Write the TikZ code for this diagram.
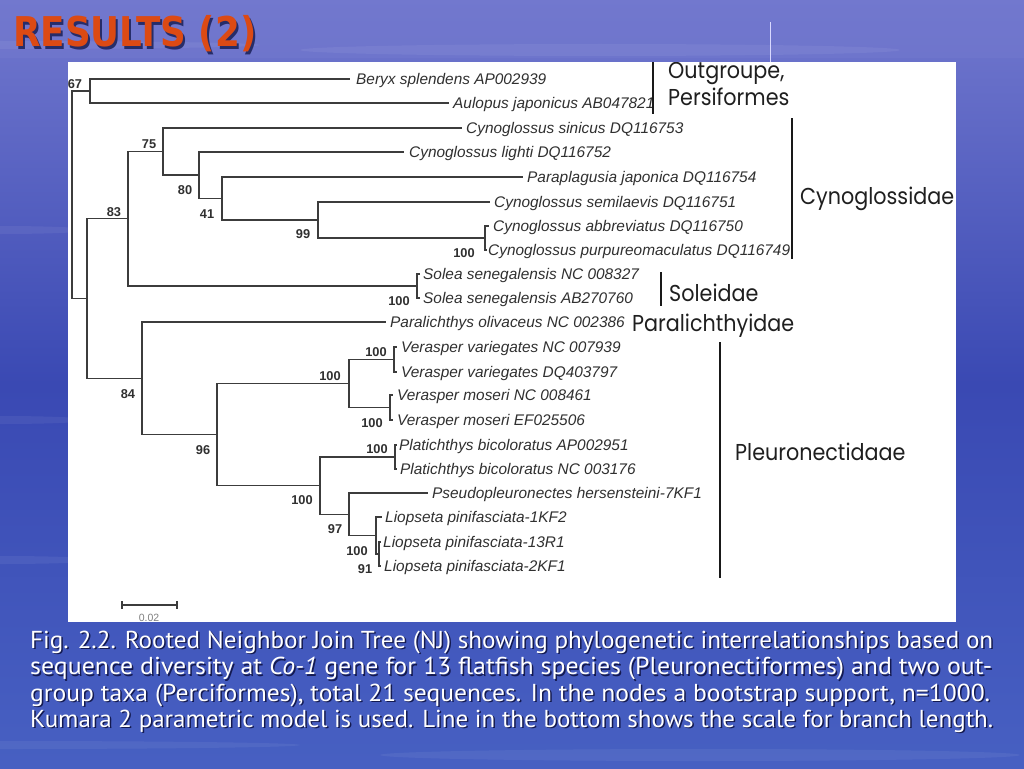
\documentclass[tikz,border=0pt]{standalone}
\usepackage{fontspec}
\usepackage{graphicx}
\setmainfont{Liberation Sans}
\newfontfamily\grpfont{Poppins}
\newfontfamily\capfont{PT Sans}
\newfontfamily\titlefont{DejaVu Sans}
\definecolor{bgtop}{HTML}{7278CE}
\definecolor{bgmid}{HTML}{3A49B3}
\definecolor{bgbot}{HTML}{4760C2}
\definecolor{treegray}{HTML}{3C3C3C}
\definecolor{txtgray}{HTML}{303030}
\definecolor{titleorange}{HTML}{DC4A14}
\definecolor{shadowblue}{HTML}{141A50}
\begin{document}
\begin{tikzpicture}[x=1pt,y=-1pt,
  br/.style={draw=treegray, line width=1.2pt},
  taxon/.style={anchor=base west, inner sep=0pt, font=\fontsize{15.4}{17}\selectfont\itshape, text=txtgray},
  boot/.style={inner sep=0pt, font=\fontsize{12.8}{14}\selectfont\bfseries, text=txtgray},
  grp/.style={anchor=base west, inner sep=0pt, font=\grpfont\fontsize{23}{26}\selectfont, text=black!88},
  grpbar/.style={draw=black!90, line width=2.8pt},
  capline/.style={anchor=base west, inner sep=0pt, font=\capfont\fontsize{24.5}{28}\selectfont},
  streak/.style={fill=white, opacity=0.06},
]
\useasboundingbox (0,0) rectangle (1024,768);
% background
\shade[top color=bgtop, bottom color=bgbot, middle color=bgmid] (0,0) rectangle (1024,768);
\fill[bgtop, opacity=0.6] (0,0) rectangle (1024,58);
\foreach \yy/\ww in {45/260,230/90,420/90,560/100,745/300}{
  \fill[streak] (0,\yy) ellipse [x radius=\ww, y radius=4];
}
\fill[streak] (600,50) ellipse [x radius=300, y radius=6];
\fill[streak] (700,755) ellipse [x radius=320, y radius=6];
% thin line above panel
\draw[white!85!blue, line width=0.8pt] (770,22) -- (770,62);
% title
\node[anchor=base west, inner sep=0pt, text=shadowblue, opacity=0.8, font=\titlefont\bfseries\fontsize{41}{44}\selectfont] (titleshadow) at (15,49) {\scalebox{0.87}[1]{RESULTS (2)}};
\node[anchor=base west, inner sep=0pt, text=titleorange, font=\titlefont\bfseries\fontsize{41}{44}\selectfont] (title) at (13,47) {\scalebox{0.87}[1]{RESULTS (2)}};
% panel
\fill[white] (68,62) rectangle (956,622);
\begin{scope}
\clip (68,62) rectangle (956,622);
% tip coordinates
\coordinate (tBeryx) at (350,79);
\coordinate (tAulopus) at (449,103);
\coordinate (tSinicus) at (462,128);
\coordinate (tLighti) at (404,152);
\coordinate (tPara) at (523,177);
\coordinate (tSemil) at (490,202);
\coordinate (tAbbr) at (489,226);
\coordinate (tPurp) at (487,250);
\coordinate (tSol1) at (420,274);
\coordinate (tSol2) at (420,298);
\coordinate (tParal) at (386,322);
\coordinate (tVV1) at (397,347);
\coordinate (tVV2) at (397,372);
\coordinate (tVM1) at (393,395);
\coordinate (tVM2) at (393,420);
\coordinate (tPB1) at (397,445);
\coordinate (tPB2) at (397,469);
\coordinate (tPseudo) at (428,493);
\coordinate (tL1) at (382,517);
\coordinate (tL2) at (381,542);
\coordinate (tL3) at (381,566);
% internal nodes
\coordinate (nOut) at (90,91);
\coordinate (nCa) at (485,238);
\coordinate (n99) at (318,220);
\coordinate (n41) at (222,198.5);
\coordinate (n80) at (199,175);
\coordinate (n75) at (163,151.5);
\coordinate (nSol) at (417,286);
\coordinate (n83) at (128,218.75);
\coordinate (nVV) at (394,359.5);
\coordinate (nVM) at (390,407.5);
\coordinate (nV) at (349,383.5);
\coordinate (nPB) at (395,457);
\coordinate (nL2) at (379,554);
\coordinate (nL) at (376,535.5);
\coordinate (n97) at (349,514.25);
\coordinate (nP) at (320,485.6);
\coordinate (n96) at (217,434.6);
\coordinate (n84) at (142,378.3);
\coordinate (nIn) at (87,298.5);
\coordinate (root) at (72,194.8);
% branches
\draw[br] (root) |- (nOut);
\draw[br] (root) |- (nIn);
\draw[br] (nOut) |- (tBeryx);
\draw[br] (nOut) |- (tAulopus);
\draw[br] (nIn) |- (n83);
\draw[br] (nIn) |- (n84);
\draw[br] (n83) |- (n75);
\draw[br] (n83) |- (nSol);
\draw[br] (n75) |- (tSinicus);
\draw[br] (n75) |- (n80);
\draw[br] (n80) |- (tLighti);
\draw[br] (n80) |- (n41);
\draw[br] (n41) |- (tPara);
\draw[br] (n41) |- (n99);
\draw[br] (n99) |- (tSemil);
\draw[br] (n99) |- (nCa);
\draw[br] (nCa) |- (tAbbr);
\draw[br] (nCa) |- (tPurp);
\draw[br] (nSol) |- (tSol1);
\draw[br] (nSol) |- (tSol2);
\draw[br] (n84) |- (tParal);
\draw[br] (n84) |- (n96);
\draw[br] (n96) |- (nV);
\draw[br] (n96) |- (nP);
\draw[br] (nV) |- (nVV);
\draw[br] (nV) |- (nVM);
\draw[br] (nVV) |- (tVV1);
\draw[br] (nVV) |- (tVV2);
\draw[br] (nVM) |- (tVM1);
\draw[br] (nVM) |- (tVM2);
\draw[br] (nP) |- (nPB);
\draw[br] (nP) |- (n97);
\draw[br] (nPB) |- (tPB1);
\draw[br] (nPB) |- (tPB2);
\draw[br] (n97) |- (tPseudo);
\draw[br] (n97) |- (nL);
\draw[br] (nL) |- (tL1);
\draw[br] (nL) |- (nL2);
\draw[br] (nL2) |- (tL2);
\draw[br] (nL2) |- (tL3);
% taxon labels
\node[taxon] (lBeryx) at (356,84.5) {Beryx splendens AP002939};
\node[taxon] (lAulopus) at (453,108.5) {Aulopus japonicus AB047821};
\node[taxon] (lSinicus) at (466,133.5) {Cynoglossus sinicus DQ116753};
\node[taxon] (lLighti) at (409,157.5) {Cynoglossus lighti DQ116752};
\node[taxon] (lPara) at (527,182.5) {Paraplagusia japonica DQ116754};
\node[taxon] (lSemil) at (494,207.5) {Cynoglossus semilaevis DQ116751};
\node[taxon] (lAbbr) at (493,231.5) {Cynoglossus abbreviatus DQ116750};
\node[taxon] (lPurp) at (488,255.5) {Cynoglossus purpureomaculatus DQ116749};
\node[taxon] (lSol1) at (423,279.5) {Solea senegalensis NC 008327};
\node[taxon] (lSol2) at (423,303.5) {Solea senegalensis AB270760};
\node[taxon] (lParal) at (390,327.5) {Paralichthys olivaceus NC 002386};
\node[taxon] (lVV1) at (401,352.5) {Verasper variegates NC 007939};
\node[taxon] (lVV2) at (401,377.5) {Verasper variegates DQ403797};
\node[taxon] (lVM1) at (397,400.5) {Verasper moseri NC 008461};
\node[taxon] (lVM2) at (397,425.5) {Verasper moseri EF025506};
\node[taxon] (lPB1) at (399,450.5) {Platichthys bicoloratus AP002951};
\node[taxon] (lPB2) at (400,474.5) {Platichthys bicoloratus NC 003176};
\node[taxon] (lPseudo) at (432,498.5) {Pseudopleuronectes hersensteini-7KF1};
\node[taxon] (lL1) at (385,522.5) {Liopseta pinifasciata-1KF2};
\node[taxon] (lL2) at (383,547.5) {Liopseta pinifasciata-13R1};
\node[taxon] (lL3) at (384,571.5) {Liopseta pinifasciata-2KF1};
% bootstrap values
\node[boot] (b67) at (75,84) {67};
\node[boot] (b83) at (114,212) {83};
\node[boot] (b75) at (149,144) {75};
\node[boot] (b80) at (185,190) {80};
\node[boot] (b41) at (207,214) {41};
\node[boot] (b99) at (303,234) {99};
\node[boot] (bCa) at (464,253) {100};
\node[boot] (bSol) at (399,301) {100};
\node[boot] (b84) at (128,394) {84};
\node[boot] (b96) at (203,450) {96};
\node[boot] (bV) at (330,376) {100};
\node[boot] (bVV) at (376,352) {100};
\node[boot] (bVM) at (372,423) {100};
\node[boot] (bPB) at (377,449) {100};
\node[boot] (bP) at (302,500) {100};
\node[boot] (b97) at (335,529) {97};
\node[boot] (bL) at (357,551) {100};
\node[boot] (bL2) at (365,569) {91};
% group bars and labels
\draw[grpbar] (653,62) -- (653,114);
\node[grp] (gOut) at (668,78) {\scalebox{0.9}[1]{Outgroupe,}};
\node[grp] (gPers) at (668,105) {\scalebox{0.9}[1]{Persiformes}};
\draw[grpbar] (792,118) -- (792,259);
\node[grp] (gCyn) at (800,204) {\scalebox{0.9}[1]{Cynoglossidae}};
\draw[grpbar] (661,272) -- (661,306);
\node[grp] (gSol) at (669,301) {\scalebox{0.9}[1]{Soleidae}};
\node[grp] (gPar) at (632,331) {\scalebox{0.9}[1]{Paralichthyidae}};
\draw[grpbar] (720,342) -- (720,578);
\node[grp] (gPle) at (735,460) {\scalebox{0.9}[1]{Pleuronectidaae}};
% scale bar
\coordinate (sA) at (122,605);
\coordinate (sB) at (177,605);
\draw[treegray, line width=1.2pt] (sA) -- (sB);
\draw[treegray, line width=1.2pt] ([yshift=4pt]sA) -- ([yshift=-4pt]sA);
\draw[treegray, line width=1.2pt] ([yshift=4pt]sB) -- ([yshift=-4pt]sB);
\node[inner sep=0pt, text=gray, font=\fontsize{10.5}{12}\selectfont] (sLab) at (149,618) {0.02};
\end{scope}
% caption
\foreach \yy/\ww/\tt in {648/963/{Fig. 2.2. Rooted Neighbor Join Tree (NJ) showing phylogenetic interrelationships based on},
  674.5/962/{sequence diversity at \textit{Co-1} gene for 13 flatfish species (Pleuronectiformes) and two out-},
  701/960/{group taxa (Perciformes), total 21 sequences. In the nodes a bootstrap support, n=1000.},
  727/963/{Kumara 2 parametric model is used. Line in the bottom shows the scale for branch length.}}{
  \node[capline, text=shadowblue] at (31.5,\yy+1.5) {\resizebox{\ww pt}{\height}{\tt}};
  \node[capline, text=white] at (30,\yy) {\resizebox{\ww pt}{\height}{\tt}};
}
\end{tikzpicture}
\end{document}
